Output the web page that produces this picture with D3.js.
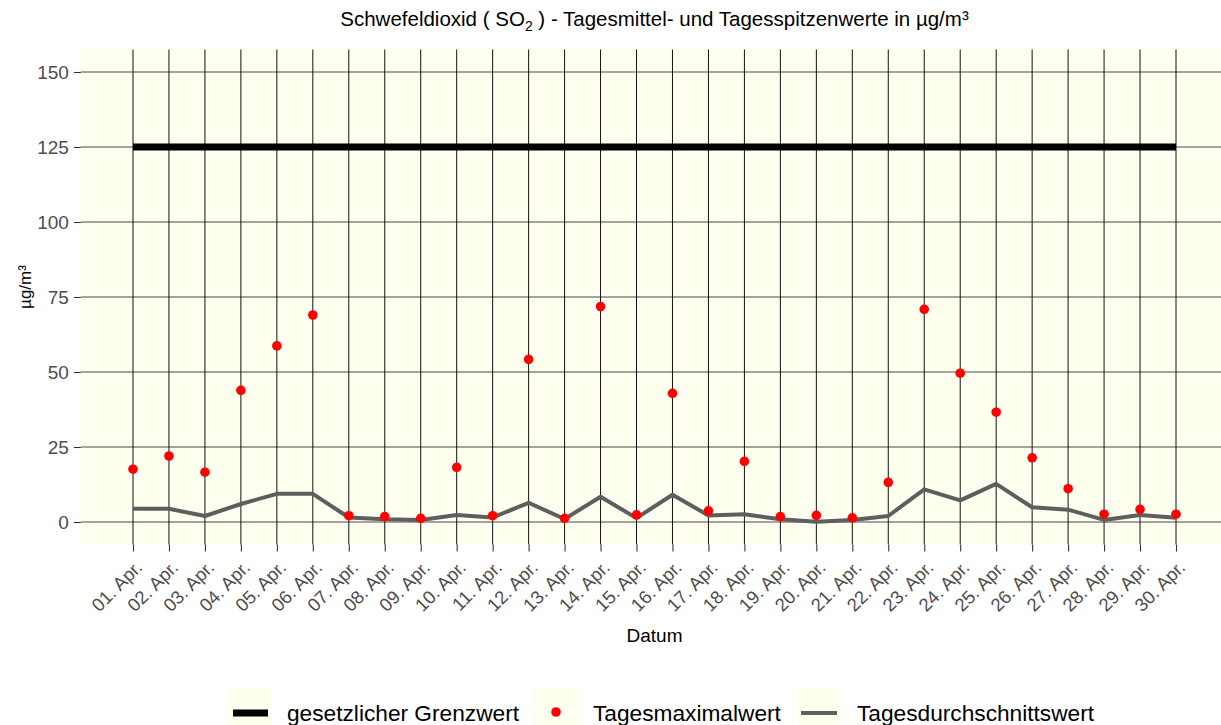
<!DOCTYPE html>
<html>
<head>
<meta charset="utf-8">
<script src="https://cdn.jsdelivr.net/npm/d3@7/dist/d3.min.js"></script>
<style>
  body { margin: 0; background: #fff; }
  svg text { font-family: "Liberation Sans", Arial, sans-serif; }
</style>
</head>
<body>
<div id="graph"></div>
<script>

// data
const days = ["01. Apr.","02. Apr.","03. Apr.","04. Apr.","05. Apr.","06. Apr.","07. Apr.","08. Apr.","09. Apr.","10. Apr.",
              "11. Apr.","12. Apr.","13. Apr.","14. Apr.","15. Apr.","16. Apr.","17. Apr.","18. Apr.","19. Apr.","20. Apr.",
              "21. Apr.","22. Apr.","23. Apr.","24. Apr.","25. Apr.","26. Apr.","27. Apr.","28. Apr.","29. Apr.","30. Apr."];
const maxValues = [17.6, 22.0, 16.6, 43.9, 58.7, 69.0, 2.1, 1.8, 1.2, 18.2,
                   2.1, 54.2, 1.2, 71.8, 2.4, 42.9, 3.7, 20.2, 1.8, 2.2,
                   1.4, 13.2, 70.9, 49.6, 36.6, 21.4, 11.1, 2.6, 4.2, 2.6];
const avgValues = [4.4, 4.4, 2.0, 6.0, 9.4, 9.4, 1.5, 0.9, 0.7, 2.3,
                   1.5, 6.4, 1.0, 8.4, 1.3, 9.1, 2.2, 2.6, 0.9, 0.1,
                   0.7, 2.0, 10.9, 7.2, 12.7, 4.9, 4.1, 0.7, 2.3, 1.4];
const limitValue = 125;
const yTicks = [0, 25, 50, 75, 100, 125, 150];
const legendLabels = ["gesetzlicher Grenzwert", "Tagesmaximalwert", "Tagesdurchschnittswert"];

const width = 1221, height = 725;

const svg = d3.select("#graph")
  .append("svg")
    .attr("width", width)
    .attr("height", height);

const idx = d3.range(days.length);

// scales (panel uses 5% expansion like the original)
const x = d3.scaleLinear().domain([0, days.length - 1]).range([133, 1176]);
const y = d3.scaleLinear().domain([0, 150]).range([522, 72]);

const pad = (days.length - 1) * 0.05;
const panelLeft = x(-pad), panelRight = x(days.length - 1 + pad);
const panelTop = y(157.5), panelBottom = y(-7.5);

// panel background
svg.append("rect")
    .attr("x", panelLeft)
    .attr("y", panelTop)
    .attr("width", panelRight - panelLeft)
    .attr("height", panelBottom - panelTop)
    .attr("fill", "#fffff0");

// horizontal grid lines
svg.append("g").selectAll("line")
  .data(yTicks)
  .join("line")
    .attr("x1", panelLeft)
    .attr("x2", panelRight)
    .attr("y1", d => y(d))
    .attr("y2", d => y(d))
    .style("stroke", "#4a4a4a")
    .style("stroke-width", 1.1);

// vertical grid lines
svg.append("g").selectAll("line")
  .data(idx)
  .join("line")
    .attr("x1", d => x(d))
    .attr("x2", d => x(d))
    .attr("y1", panelTop)
    .attr("y2", panelBottom)
    .style("stroke", "#111")
    .style("stroke-width", 1);

// Y axis
const yAxis = svg.append("g")
    .attr("transform", `translate(${panelLeft},0)`)
    .call(d3.axisLeft(y).tickValues(yTicks).tickSize(7).tickPadding(5));
yAxis.select(".domain").remove();
yAxis.selectAll(".tick line").style("stroke", "#333").style("stroke-width", 1.1);
yAxis.selectAll(".tick text")
    .style("font-size", "19px")
    .style("fill", "#4d4d4d");

// X axis
const xAxis = svg.append("g")
    .attr("transform", `translate(0,${panelBottom})`)
    .call(d3.axisBottom(x).tickValues(idx).tickFormat(i => days[i]).tickSize(7));
xAxis.select(".domain").remove();
xAxis.selectAll(".tick line").style("stroke", "#333").style("stroke-width", 1.1);
xAxis.selectAll(".tick text")
    .style("font-size", "18.5px")
    .style("fill", "#4d4d4d")
    .attr("text-anchor", "end")
    .attr("dy", null)
    .attr("y", 0)
    .attr("transform", "translate(10,24) rotate(-45)");

// limit line
svg.append("path")
  .datum(idx)
    .attr("fill", "none")
    .attr("stroke", "#000")
    .attr("stroke-width", 7)
    .attr("d", d3.line()
      .x(d => x(d))
      .y(() => y(limitValue)));

// daily average line
svg.append("path")
  .datum(idx)
    .attr("fill", "none")
    .attr("stroke", "#5e5e5e")
    .attr("stroke-width", 4)
    .attr("stroke-linejoin", "round")
    .attr("d", d3.line()
      .x(d => x(d))
      .y(d => y(avgValues[d])));

// daily max points
svg.append("g").selectAll("circle")
  .data(idx)
  .join("circle")
    .attr("cx", d => x(d))
    .attr("cy", d => y(maxValues[d]))
    .attr("r", 4.8)
    .attr("fill", "#ff0000");

// title
const title = svg.append("text")
    .attr("x", (panelLeft + panelRight) / 2)
    .attr("y", 26)
    .attr("text-anchor", "middle")
    .style("font-size", "20.5px")
    .style("fill", "#000");
title.append("tspan").text("Schwefeldioxid ( SO");
title.append("tspan").attr("dy", 5).style("font-size", "14px").text("2");
title.append("tspan").attr("dy", -5).text(" ) - Tagesmittel- und Tagesspitzenwerte in µg/m³");

// axis titles
svg.append("text")
    .attr("x", (panelLeft + panelRight) / 2)
    .attr("y", 642)
    .attr("text-anchor", "middle")
    .style("font-size", "19px")
    .text("Datum");

svg.append("text")
    .attr("transform", `translate(31,287) rotate(-90)`)
    .attr("text-anchor", "middle")
    .style("font-size", "17px")
    .text("µg/m³");

// legend
const legendY = 713;
const keyX = [227, 533, 797];
const textX = [287, 593, 857];
const legend = svg.append("g");
keyX.forEach((kx, i) => {
  legend.append("rect")
      .attr("x", kx)
      .attr("y", legendY - 25)
      .attr("width", 44)
      .attr("height", 44)
      .attr("fill", "#fffff0");
  legend.append("text")
      .attr("x", textX[i])
      .attr("y", legendY + 8)
      .style("font-size", "22.7px")
      .text(legendLabels[i]);
});
legend.append("line")
    .attr("x1", keyX[0] + 6).attr("x2", keyX[0] + 41)
    .attr("y1", legendY).attr("y2", legendY)
    .attr("stroke", "#000").attr("stroke-width", 7);
legend.append("circle")
    .attr("cx", keyX[1] + 23).attr("cy", legendY - 1)
    .attr("r", 4.8).attr("fill", "#ff0000");
legend.append("line")
    .attr("x1", keyX[2] + 4).attr("x2", keyX[2] + 40)
    .attr("y1", legendY).attr("y2", legendY)
    .attr("stroke", "#5e5e5e").attr("stroke-width", 4);

</script>
</body>
</html>
